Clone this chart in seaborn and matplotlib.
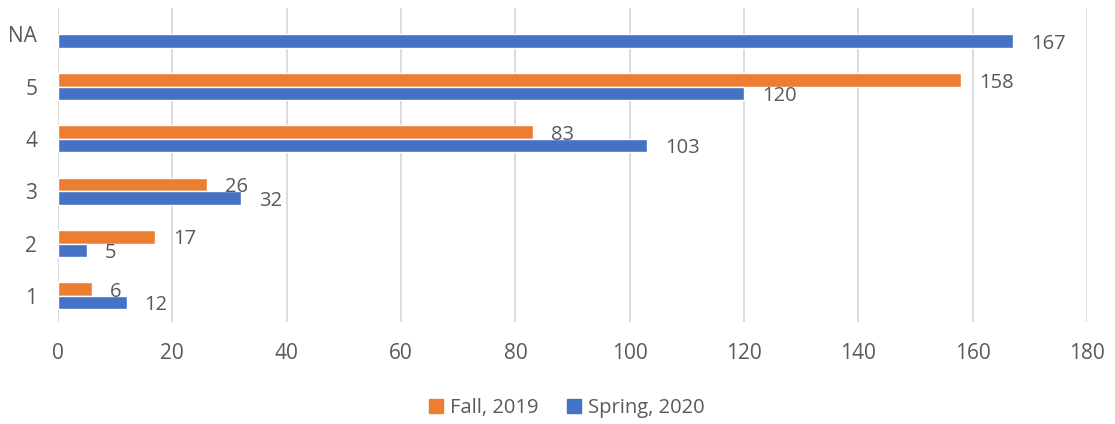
import numpy as np
import pandas as pd
import matplotlib.pyplot as plt
import seaborn as sns

categories = ['NA', '5', '4', '3', '2', '1']
fall_2019 = [np.nan, 158, 83, 26, 17, 6]
spring_2020 = [167, 120, 103, 32, 5, 12]
series_names = ['Fall, 2019', 'Spring, 2020']
x_ticks = [0, 20, 40, 60, 80, 100, 120, 140, 160, 180]

df = pd.DataFrame({
    'rating': categories * 2,
    'count': fall_2019 + spring_2020,
    'term': [series_names[0]] * 6 + [series_names[1]] * 6,
})

sns.set_style('white')
plt.rcParams['font.family'] = ['Open Sans', 'DejaVu Sans']
text_color = '#595959'
palette = {series_names[0]: '#ED7D31', series_names[1]: '#4472C4'}

fig = plt.figure(figsize=(11.15, 4.24), dpi=100)
ax = fig.add_axes([0.052, 0.2406, 0.923, 0.7404])

sns.barplot(data=df, y='rating', x='count', hue='term', order=categories,
            hue_order=series_names, palette=palette, orient='h', width=0.52,
            saturation=1, dodge=True, legend=False, ax=ax)

# value labels just past the end of each bar
for container in ax.containers:
    for bar in container:
        w = bar.get_width()
        if np.isnan(w):
            continue
        ax.annotate(f'{w:.0f}', (w, bar.get_y() + bar.get_height() / 2),
                    xytext=(13, -2), textcoords='offset points',
                    ha='left', va='center', fontsize=14.5, color=text_color)

ax.set_xlim(0, 180)
ax.set_xticks(x_ticks)
ax.set_ylim(len(categories) - 0.5, -0.5)
ax.grid(axis='x', color='#d9d9d9', linewidth=1.3)
ax.set_axisbelow(True)
for s in ax.spines.values():
    s.set_visible(False)
ax.tick_params(axis='x', length=0, pad=15, labelsize=15, labelcolor=text_color)
ax.tick_params(axis='y', length=0, pad=15, labelsize=15, labelcolor=text_color)
ax.set_xlabel('')
ax.set_ylabel('')

handles = [plt.Line2D([], [], marker='s', linestyle='', markersize=10,
                      color=palette[n]) for n in series_names]
fig.legend(handles, series_names, loc='center', bbox_to_anchor=(0.508, 0.038),
           ncol=2, frameon=False, fontsize=14.5, labelcolor=text_color,
           handlelength=0.7, handletextpad=0.35, columnspacing=1.4)

fig.savefig('out.png', dpi=100)
